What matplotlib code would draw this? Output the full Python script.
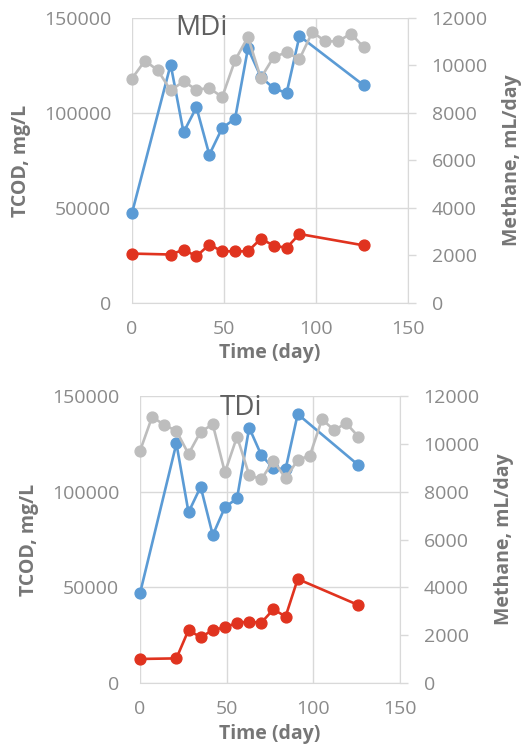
import matplotlib
matplotlib.use("Agg")
import matplotlib.pyplot as plt

# ---------------- data ----------------
days_cod = [0, 21, 28, 35, 42, 49, 56, 63, 70, 77, 84, 91, 126]
days_ch4 = [0, 7, 14, 21, 28, 35, 42, 49, 56, 63, 70, 77, 84, 91, 98, 105, 112, 119, 126]

mdi_blue = [47400, 125500, 89800, 103000, 78000, 92100, 97000, 134000, 119000, 113000, 110500, 140500, 114500]
mdi_red = [26000, 25500, 28000, 24600, 30700, 27200, 27200, 27200, 33800, 30200, 29000, 36300, 30300]
mdi_gray = [9450, 10200, 9800, 8950, 9330, 8980, 9050, 8670, 10220, 11200, 9470, 10360, 10550, 10270, 11410, 11020, 11020, 11340, 10760]

tdi_blue = [46900, 125100, 89200, 102500, 77300, 91800, 96500, 133300, 119000, 112100, 111700, 140400, 113800]
tdi_red = [12700, 13000, 27800, 24000, 27800, 29200, 31600, 32100, 31600, 38600, 34800, 54400, 40800]
tdi_gray = [9690, 11120, 10780, 10530, 9570, 10500, 10800, 8800, 10290, 8690, 8510, 9290, 8550, 9320, 9500, 11010, 10570, 10850, 10290]

left_ticks = [0, 50000, 100000, 150000]
right_ticks = [0, 2000, 4000, 6000, 8000, 10000, 12000]
x_ticks = [0, 50, 100, 150]

BLUE = "#5B9BD5"
RED = "#E0331F"
GRAY = "#BDBDBD"
TICK_C = "#8a8a8a"
LAB_C = "#767676"
GRID_C = "#d9d9d9"

plt.rcParams["font.family"] = ["Open Sans", "DejaVu Sans"]

fig = plt.figure(figsize=(5.21, 7.49), dpi=100)


def panel(rect, title, title_pos, blue, red, gray):
    ax = fig.add_axes(rect)
    ax2 = ax.twinx()
    ax.set_xlim(0, 150)
    ax.set_ylim(0, 150000)
    ax2.set_ylim(0, 12000)
    ax.set_xticks(x_ticks)
    ax.set_yticks(left_ticks)
    ax2.set_yticks(right_ticks)
    ax.grid(True, color=GRID_C, lw=1.0)
    ax.set_axisbelow(True)
    for sp in ["top", "left"]:
        ax.spines[sp].set_visible(False)
        ax2.spines[sp].set_visible(False)
    ax.spines["right"].set_visible(False)
    ax.spines["bottom"].set_color(GRID_C)
    ax2.spines["bottom"].set_visible(False)
    ax2.spines["right"].set_color(GRID_C)
    ax.tick_params(axis="both", length=0, labelsize=14, labelcolor=TICK_C)
    ax.tick_params(axis="x", pad=12)
    ax.tick_params(axis="y", pad=15)
    ax2.tick_params(axis="y", length=6, width=1, color=GRID_C, labelsize=14,
                    labelcolor=TICK_C, pad=11)
    ax.plot(days_cod, blue, color=BLUE, lw=1.9, marker="o", ms=7.8, zorder=3, clip_on=False)
    ax.plot(days_cod, red, color=RED, lw=1.9, marker="o", ms=7.8, zorder=3, clip_on=False)
    ax2.plot(days_ch4, gray, color=GRAY, lw=1.9, marker="o", ms=7.8, zorder=3, clip_on=False)
    ax.set_xlabel("Time (day)", fontsize=14, fontweight="bold", color=LAB_C, labelpad=4)
    ax.set_ylabel("TCOD, mg/L", fontsize=14, fontweight="bold", color=LAB_C, labelpad=9)
    ax2.set_ylabel("Methane, mL/day", fontsize=14, fontweight="bold", color=LAB_C, labelpad=10)
    ax.text(title_pos[0], title_pos[1], title, transform=ax.transAxes, ha="center",
            va="center", fontsize=20, color="#5f5f5f", zorder=5)
    return ax, ax2


panel([0.2534, 0.5955, 0.5298, 0.3805], "MDi", (0.25, 0.965), mdi_blue, mdi_red, mdi_gray)
panel([0.2687, 0.0877, 0.499, 0.384], "TDi", (0.387, 0.957), tdi_blue, tdi_red, tdi_gray)

fig.savefig("out.png", dpi=100)
